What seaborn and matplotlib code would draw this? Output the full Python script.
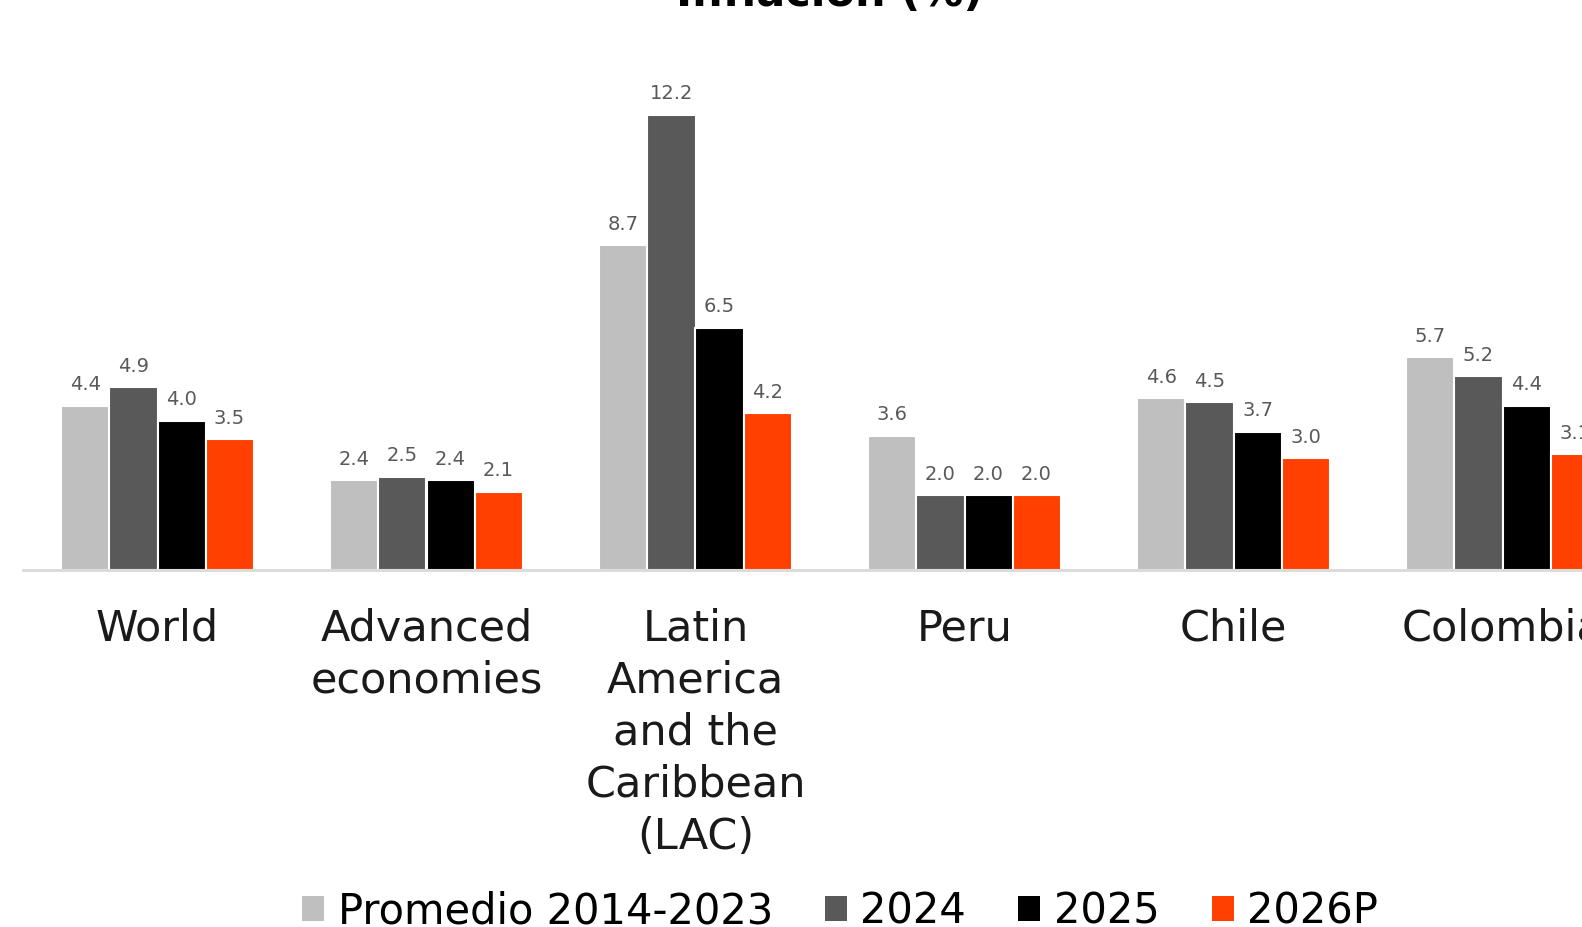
import matplotlib
matplotlib.use("Agg")
import matplotlib.pyplot as plt
import matplotlib.patches as mpatches
import seaborn as sns
import pandas as pd

# Inflation by region: 2014-2023 average, 2024, 2025 and 2026 projection
regions = ["World", "Advanced\neconomies", "Latin\nAmerica\nand the\nCaribbean\n(LAC)",
           "Peru", "Chile", "Colombia"]
series = ["Promedio 2014-2023", "2024", "2025", "2026P"]
avg_2014_2023 = [4.4, 2.4, 8.7, 3.6, 4.6, 5.7]
y2024 = [4.9, 2.5, 12.2, 2.0, 4.5, 5.2]
y2025 = [4.0, 2.4, 6.5, 2.0, 3.7, 4.4]
y2026p = [3.5, 2.1, 4.2, 2.0, 3.0, 3.1]
colors = ["#BFBFBF", "#595959", "#000000", "#FF4000"]

rows = []
for name, vals in zip(series, [avg_2014_2023, y2024, y2025, y2026p]):
    for reg, v in zip(regions, vals):
        rows.append({"region": reg, "series": name, "value": v})
df = pd.DataFrame(rows)

sns.set_theme(style="white")
plt.rcParams["font.family"] = ["DejaVu Sans"]

W, H = 1582, 928
fig = plt.figure(figsize=(W / 100, H / 100), dpi=100)
fig.patch.set_facecolor("white")

# axes runs past the right edge of the figure
left_px, base_px, px_per_unit, cat_px = 23, 571, 37.3, 269
ymax = 14
ax_h = ymax * px_per_unit
ax_w = 6 * cat_px
ax = fig.add_axes([left_px / W, (H - base_px) / H, ax_w / W, ax_h / H])

sns.barplot(data=df, x="region", y="value", hue="series", order=regions,
            hue_order=series, palette=colors, width=0.714, errorbar=None,
            edgecolor="white", linewidth=1.5, saturation=1, ax=ax, legend=False)

ax.set_xlim(-0.5, 5.5)
ax.set_ylim(0, ymax)
ax.set_xlabel("")
ax.set_ylabel("")
ax.set_yticks([])
for s in ["top", "right", "left"]:
    ax.spines[s].set_visible(False)
ax.spines["bottom"].set_color("#D9D9D9")
ax.spines["bottom"].set_linewidth(2)
ax.tick_params(axis="x", length=0, pad=26, labelsize=31, labelcolor="#1A1A1A")
for lbl in ax.get_xticklabels():
    lbl.set_linespacing(1.31)

for cont in ax.containers:
    ax.bar_label(cont, fmt="%.1f", padding=9, fontsize=14, color="#595959")

fig.text(830 / W, 1 - 6 / H, "Inflación (%)", ha="center", va="baseline",
         fontsize=31, fontweight="bold", color="#000000")

handles = [mpatches.Patch(facecolor=c, edgecolor="none", label=s)
           for c, s in zip(colors, series)]
fig.legend(handles=handles, loc="center", bbox_to_anchor=(840 / W, 1 - 912 / H),
           ncol=4, frameon=False, fontsize=30, handlelength=0.53, handleheight=0.53,
           handletextpad=0.32, columnspacing=1.25, labelcolor="#000000")

fig.savefig("out.png", dpi=100)
